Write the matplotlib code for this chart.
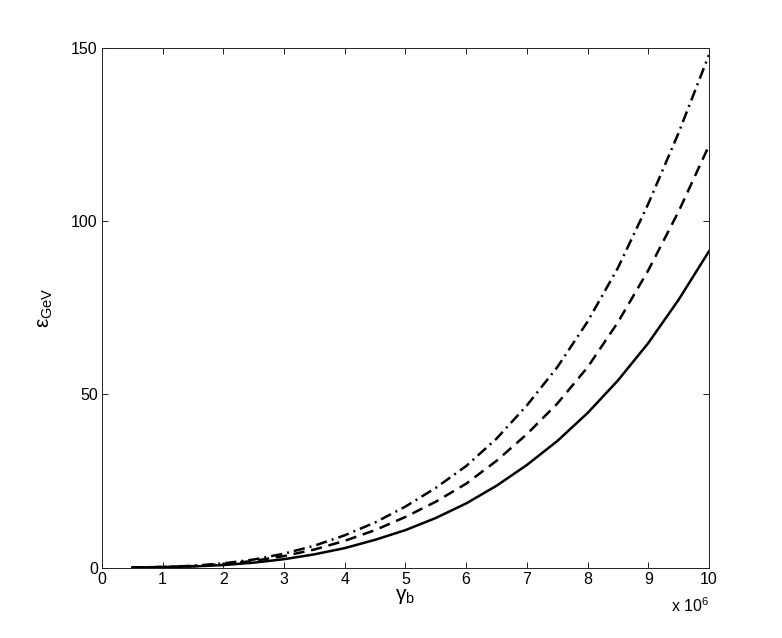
import matplotlib

matplotlib.use("Agg")
import matplotlib.pyplot as plt

plt.rcParams["font.family"] = ["Liberation Sans", "DejaVu Sans"]
plt.rcParams["mathtext.fontset"] = "custom"
plt.rcParams["mathtext.rm"] = "Liberation Sans"
plt.rcParams["mathtext.it"] = "Liberation Sans:italic"

# gamma_b in units of 10^6
gamma_b = [0.5, 1.0, 1.5, 2.0, 2.5, 3.0, 3.5, 4.0, 4.5, 5.0,
           5.5, 6.0, 6.5, 7.0, 7.5, 8.0, 8.5, 9.0, 9.5, 10.0]

# epsilon in GeV
eps_solid = [0.01, 0.1, 0.3, 0.7, 1.4, 2.4, 3.8, 5.6, 8.0, 10.8,
             14.3, 18.5, 23.6, 29.6, 36.5, 44.6, 54.0, 64.8, 77.3, 91.3]
eps_dashed = [0.01, 0.13, 0.4, 1.0, 1.9, 3.3, 5.2, 7.7, 10.8, 14.6,
              19.0, 24.2, 30.8, 38.5, 47.3, 57.8, 70.8, 85.8, 102.8, 121.8]
eps_dashdot = [0.02, 0.16, 0.5, 1.2, 2.3, 4.0, 6.3, 9.3, 13.0, 17.6,
               23.0, 29.3, 37.2, 46.8, 57.8, 71.0, 86.5, 105.0, 125.5, 148.0]

x_ticks = list(range(0, 11))
y_ticks = [0, 50, 100, 150]

fig = plt.figure(figsize=(7.82, 6.38), dpi=100)
ax = fig.add_axes([0.1304, 0.1105, 0.7762, 0.8143])

ax.plot(gamma_b, eps_solid, color="black", lw=1.8, linestyle="-")
ax.plot(gamma_b, eps_dashed, color="black", lw=1.8, linestyle=(0, (4.5, 2.7)))
ax.plot(gamma_b, eps_dashdot, color="black", lw=1.8,
        linestyle=(0, (4.5, 2, 0.8, 2)))

ax.set_xlim(0, 10)
ax.set_ylim(0, 150)
ax.set_xticks(x_ticks)
ax.set_yticks(y_ticks)
ax.tick_params(direction="in", top=True, right=True, length=4,
               width=0.6, labelsize=11.5, pad=3)
for spine in ax.spines.values():
    spine.set_linewidth(0.7)
    spine.set_color("#222222")

ax.set_xlabel("γ$_{\\mathrm{b}}$", fontsize=15, labelpad=0)
ax.set_ylabel("ε$_{\\mathrm{GeV}}$", fontsize=15, labelpad=12)
ax.text(1.0, -0.056, "x 10$^{6}$", transform=ax.transAxes,
        ha="right", va="top", fontsize=11.5)

fig.savefig("out.png", dpi=100)
plt.close(fig)
